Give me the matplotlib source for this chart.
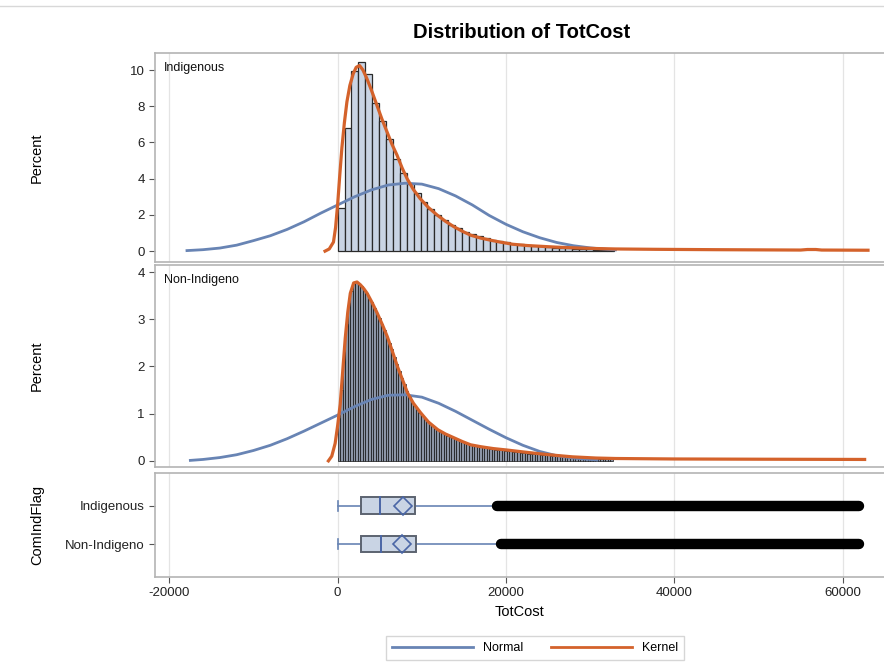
import matplotlib
matplotlib.use("Agg")
import matplotlib.pyplot as plt
from matplotlib.lines import Line2D
import numpy as np

plt.rcParams['font.family'] = ['Liberation Sans', 'DejaVu Sans']

# ---------------- data ----------------
groups = ["Indigenous", "Non-Indigeno"]
x_ticks = [-20000, 0, 20000, 40000, 60000]

# Indigenous histogram (bin width ~820, starting at 0), percent
ind_bin_width = 820
ind_pct = [2.4, 6.8, 9.96, 10.46, 9.8, 8.2, 7.2, 6.2, 5.1, 4.3,
           3.7, 3.2, 2.7, 2.35, 2.0, 1.7, 1.45, 1.25, 1.08, 0.95,
           0.82, 0.72, 0.62, 0.55, 0.48, 0.42, 0.37, 0.33, 0.29, 0.26,
           0.23, 0.20, 0.18, 0.16, 0.14, 0.12, 0.11, 0.09, 0.08, 0.07]

# Non-Indigenous histogram (bin width ~300, starting at 0), percent
non_bin_width = 300
non_pct = [0.9, 1.5, 2.3, 2.9, 3.35, 3.6, 3.77, 3.78, 3.74, 3.7,
           3.62, 3.55, 3.44, 3.36, 3.24, 3.12, 3.03, 2.9, 2.78, 2.63,
           2.5, 2.37, 2.2, 2.06, 1.9, 1.76, 1.63, 1.49, 1.37, 1.27,
           1.16, 1.08, 1.01, 0.95, 0.89, 0.84, 0.78, 0.74, 0.69, 0.66,
           0.62, 0.59, 0.56, 0.53, 0.51, 0.49, 0.47, 0.44, 0.42, 0.40,
           0.38, 0.36, 0.345, 0.33, 0.32, 0.31, 0.30, 0.29, 0.28, 0.27,
           0.26, 0.25, 0.24, 0.235, 0.23, 0.22, 0.21, 0.205, 0.20, 0.19,
           0.185, 0.18, 0.175, 0.17, 0.16, 0.155, 0.15, 0.145, 0.14, 0.135,
           0.13, 0.125, 0.12, 0.115, 0.11, 0.105, 0.10, 0.097, 0.094, 0.09,
           0.087, 0.084, 0.08, 0.077, 0.074, 0.07, 0.067, 0.064, 0.061, 0.058,
           0.055, 0.052, 0.05, 0.047, 0.045, 0.042, 0.04, 0.038, 0.035]

# Normal curves (read points)
ind_norm_x = [-17900, -16000, -14000, -12000, -10000, -8000, -6000, -4000,
              -2000, 0, 2000, 4000, 6000, 8000, 10000, 12000, 14000, 16000,
              18000, 20000, 22000, 24000, 26000, 28000, 30000, 32000, 33000]
ind_norm_y = [0.03, 0.08, 0.17, 0.33, 0.58, 0.85, 1.20, 1.62,
              2.10, 2.55, 3.00, 3.38, 3.65, 3.75, 3.70, 3.45, 3.05, 2.55,
              1.97, 1.48, 1.07, 0.74, 0.48, 0.30, 0.18, 0.10, 0.07]
non_norm_x = [-17500, -16000, -14000, -12000, -10000, -8000, -6000, -4000,
              -2000, 0, 2000, 4000, 6000, 8000, 10000, 12000, 14000, 16000,
              18000, 20000, 22000, 24000, 26000, 28000, 30000, 30800]
non_norm_y = [0.01, 0.03, 0.07, 0.13, 0.22, 0.33, 0.47, 0.63,
              0.80, 0.97, 1.15, 1.30, 1.39, 1.40, 1.35, 1.22, 1.05, 0.86,
              0.67, 0.49, 0.33, 0.20, 0.11, 0.06, 0.03, 0.02]

# Kernel curves (read points)
ind_kern_x = [-1500, -1000, -500, -250, 0, 250, 500, 800, 1100, 1450,
              1850, 2200, 2600, 3000, 3450, 4000, 4650, 5250, 5850, 6450,
              7050, 7650, 8250, 9000, 9800, 10800, 11800, 12800, 13800, 14800,
              15800, 17000, 18200, 19300, 20800, 22500, 24000, 26000, 28700, 31000,
              33000, 37800, 45000, 50000, 55000, 55800, 56800, 57500, 63000]
ind_kern_y = [0.0, 0.12, 0.5, 1.3, 2.6, 4.2, 5.7, 7.1, 8.25, 9.15,
              9.8, 10.15, 10.25, 10.0, 9.55, 8.9, 8.07, 7.3, 6.6, 5.9,
              5.3, 4.6, 4.0, 3.4, 2.9, 2.4, 2.0, 1.65, 1.35, 1.1,
              0.88, 0.72, 0.6, 0.5, 0.38, 0.31, 0.27, 0.22, 0.17, 0.14,
              0.12, 0.10, 0.08, 0.07, 0.06, 0.09, 0.09, 0.06, 0.05]
non_kern_x = [-1100, -700, -300, 0, 300, 600, 900, 1200, 1500, 1900,
              2300, 2700, 3100, 3500, 4100, 4700, 5300, 5900, 6500, 7100,
              7700, 8300, 9000, 9850, 10800, 11900, 12800, 13800, 14800, 15800,
              17000, 18500, 20100, 22000, 24000, 26000, 27900, 30700, 33000, 40000,
              50000, 62600]
non_kern_y = [0.0, 0.1, 0.37, 0.75, 1.2, 1.9, 2.6, 3.15, 3.55, 3.77,
              3.79, 3.73, 3.65, 3.55, 3.35, 3.13, 2.89, 2.63, 2.32, 2.0,
              1.72, 1.44, 1.22, 1.02, 0.82, 0.66, 0.57, 0.49, 0.41, 0.34,
              0.30, 0.26, 0.23, 0.19, 0.15, 0.115, 0.085, 0.06, 0.05, 0.04,
              0.035, 0.03]

# Box plot statistics
box_min = [0, 0]
box_q1 = [2740, 2740]
box_median = [5030, 5190]
box_mean = [7800, 7600]
box_q3 = [9150, 9350]
box_whisker_hi = [18300, 18800]
outlier_lo = [18900, 19400]
outlier_hi = [61900, 61900]

# ---------------- style ----------------
C_NORM = '#6884b4'
C_KERN = '#d4622b'
C_FILL = '#c9d4e4'
C_FILL2 = '#8c95a6'
C_FRAME = '#b4b4b4'
C_GRID = '#e4e4e4'
XLIM = (-21700, 64900)

W, H = 884, 670
fig = plt.figure(figsize=(W / 100, H / 100), dpi=100)

def ax_rect(x0, y0, x1, y1):
    return [x0 / W, 1 - y1 / H, (x1 - x0) / W, (y1 - y0) / H]

ax1 = fig.add_axes(ax_rect(155, 53, 884, 262))
ax2 = fig.add_axes(ax_rect(155, 265, 884, 467))
ax3 = fig.add_axes(ax_rect(155, 473, 884, 577))

for ax in (ax1, ax2, ax3):
    ax.set_xlim(*XLIM)
    ax.set_xticks(x_ticks)
    ax.grid(axis='x', color=C_GRID, lw=0.9, zorder=0)
    ax.set_axisbelow(True)
    for s in ('top', 'bottom', 'left'):
        ax.spines[s].set_color(C_FRAME)
        ax.spines[s].set_linewidth(1.2)
    ax.spines['right'].set_visible(False)
    ax.tick_params(axis='both', colors='#555555', labelcolor='#222222',
                   labelsize=9.5, length=4, width=0.8)

# histogram panels
def hist_panel(ax, pct, bw, nx, ny, kx, ky, label, ylim, yticks, lw_edge, edgec, fill):
    lefts = np.arange(len(pct)) * bw
    ax.bar(lefts, pct, width=bw, align='edge', color=fill,
           edgecolor=edgec, linewidth=lw_edge, zorder=2)
    ax.plot(nx, ny, color=C_NORM, lw=2.0, zorder=3)
    ax.plot(kx, ky, color=C_KERN, lw=2.3, zorder=4)
    ax.set_ylim(*ylim)
    ax.set_yticks(yticks)
    ax.set_ylabel('Percent', fontsize=10.5)
    ax.text(0.012, 0.955, label, transform=ax.transAxes, fontsize=9,
            va='top', ha='left', color='#111111')
    ax.tick_params(axis='x', labelbottom=False, length=0)

hist_panel(ax1, ind_pct, ind_bin_width, ind_norm_x, ind_norm_y,
           ind_kern_x, ind_kern_y, groups[0], (-0.6, 10.94),
           [0, 2, 4, 6, 8, 10], 0.9, '#2a2a2a', C_FILL)
hist_panel(ax2, non_pct, non_bin_width, non_norm_x, non_norm_y,
           non_kern_x, non_kern_y, groups[1], (-0.13, 4.15),
           [0, 1, 2, 3, 4], 0.5, '#111111', C_FILL2)

# box panel
ypos = np.arange(len(groups))
bh = 0.42
for i, y in enumerate(ypos):
    ax3.plot([box_min[i], box_q1[i]], [y, y], color=C_NORM, lw=1.2, zorder=2)
    ax3.plot([box_q3[i], box_whisker_hi[i]], [y, y], color=C_NORM, lw=1.2, zorder=2)
    ax3.plot([box_min[i], box_min[i]], [y - 0.13, y + 0.13], color=C_NORM, lw=1.2, zorder=2)
    ax3.add_patch(plt.Rectangle((box_q1[i], y - bh / 2), box_q3[i] - box_q1[i], bh,
                                facecolor=C_FILL, edgecolor='#5c6370', lw=1.4, zorder=3))
    ax3.plot([box_median[i], box_median[i]], [y - bh / 2, y + bh / 2],
             color='#4a66a6', lw=1.4, zorder=4)
    ax3.plot([box_mean[i]], [y], marker='D', markersize=9.5, markerfacecolor='none',
             markeredgecolor='#4a66a6', markeredgewidth=1.2, zorder=5)
    ax3.plot([outlier_lo[i], outlier_hi[i]], [y, y], color='black', lw=7.5,
             solid_capstyle='round', zorder=4)

ax3.set_ylim(1.857, -0.845)
ax3.set_yticks(ypos)
ax3.set_yticklabels(groups)
ax3.set_ylabel('ComIndFlag', fontsize=10.5)
ax3.set_xlabel('TotCost', fontsize=10.5, labelpad=4)
ax3.xaxis.set_major_formatter(matplotlib.ticker.FuncFormatter(lambda v, p: f'{int(v)}'))

# align y labels
for ax in (ax1, ax2, ax3):
    ax.yaxis.set_label_coords(-0.152, 0.5)

fig.suptitle('Distribution of TotCost', x=522 / W, y=1 - 33 / H, va='center',
             fontsize=14.5, fontweight='bold')

handles = [Line2D([], [], color=C_NORM, lw=2.0), Line2D([], [], color=C_KERN, lw=2.0)]
leg = fig.legend(handles, ['Normal', 'Kernel'], loc='center', ncol=2,
                 bbox_to_anchor=(535 / W, 1 - 648 / H), frameon=True, fancybox=False,
                 fontsize=9, handlelength=6.5, columnspacing=2.2, handletextpad=0.8,
                 borderpad=0.45, borderaxespad=0.0, edgecolor='#cccccc')
leg.get_frame().set_linewidth(1.0)

# outer screenshot frame line
fig.add_artist(Line2D([0, 1], [1 - 6 / H, 1 - 6 / H], transform=fig.transFigure,
                      color='#d8d8d8', lw=1.0))

fig.savefig('out.png', dpi=100)
